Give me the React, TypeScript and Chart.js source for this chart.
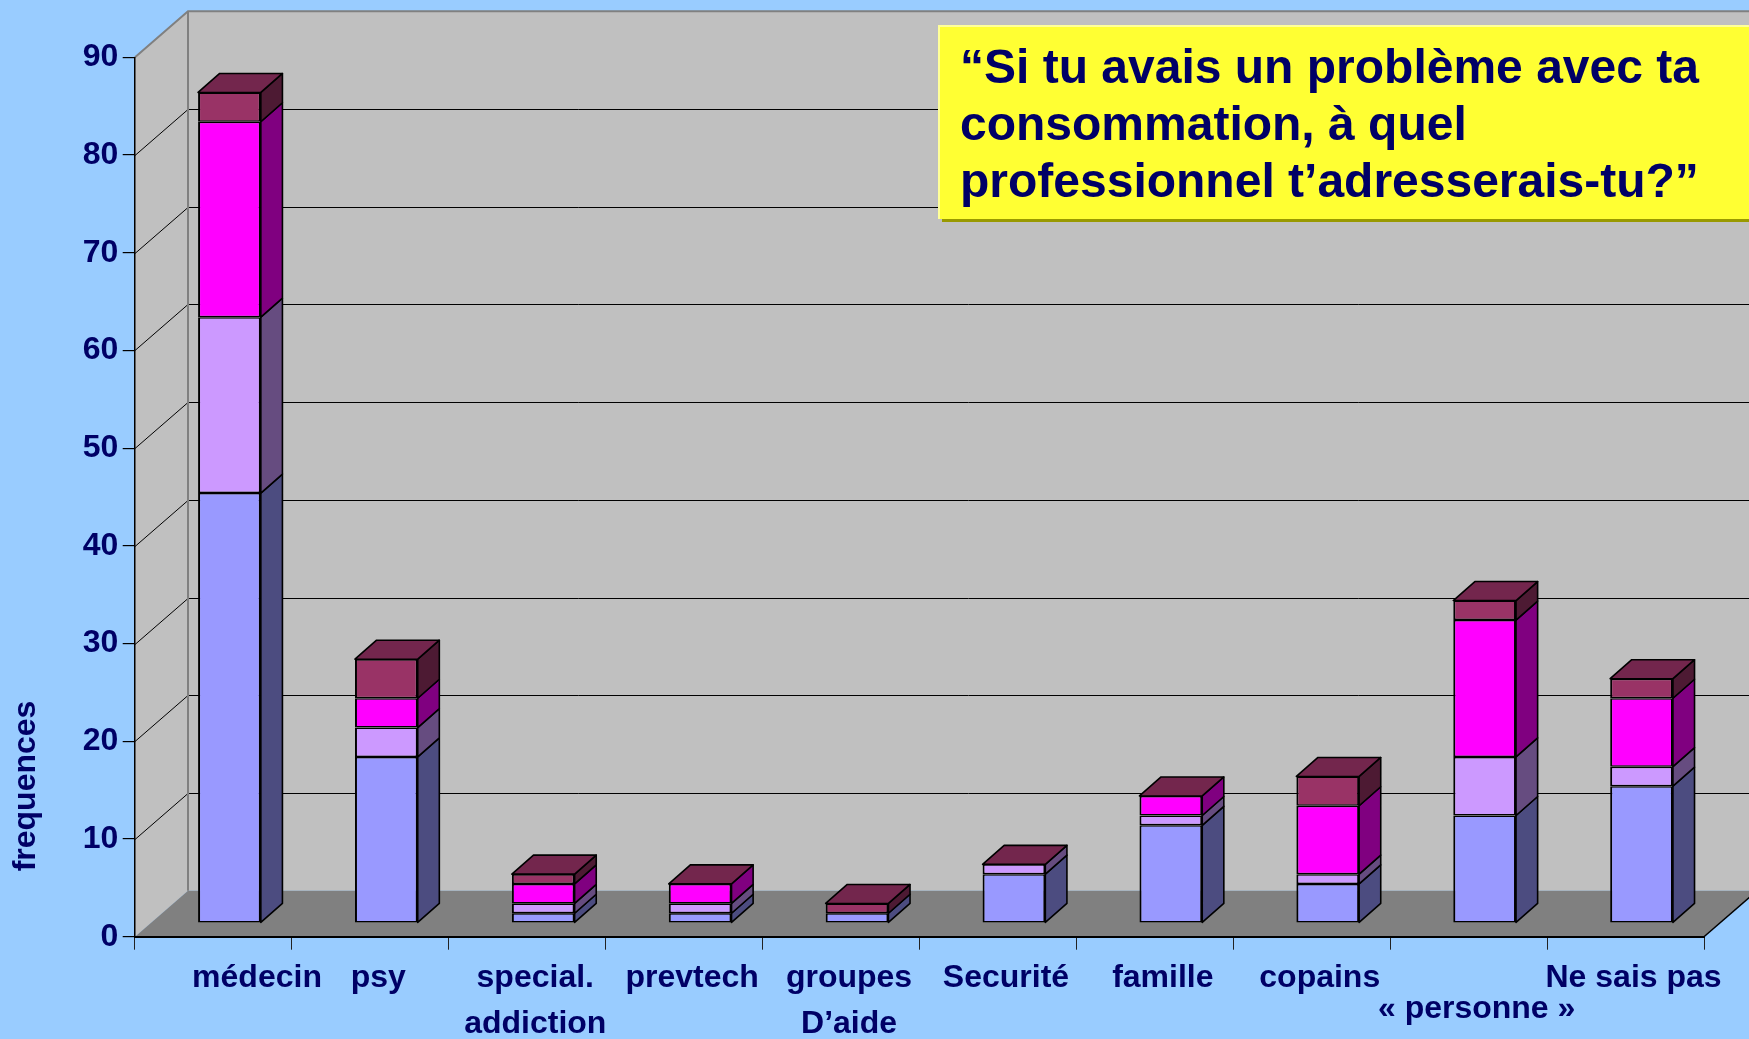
import React, { useEffect, useRef } from "react";
import { Chart, registerables } from "chart.js";

Chart.register(...registerables);

// ---------- data ----------
const categories: string[][] = [
  ["médecin"],
  ["psy"],
  ["special.", "addiction"],
  ["prevtech"],
  ["groupes", "D’aide"],
  ["Securité"],
  ["famille"],
  ["copains"],
  ["", "« personne »"],
  ["Ne sais pas"],
];
const seriesNames = ["Série 1", "Série 2", "Série 3", "Série 4"];
const serie1 = [44, 17, 1, 1, 1, 5, 10, 4, 11, 14];
const serie2 = [18, 3, 1, 1, 0, 1, 1, 1, 6, 2];
const serie3 = [20, 3, 2, 2, 0, 0, 2, 7, 14, 7];
const serie4 = [3, 4, 1, 0, 1, 0, 0, 3, 2, 2];
const yMin = 0;
const yMax = 90;
const yStep = 10;
const yTitle = "frequences";
const titleLines = [
  "“Si tu avais un problème avec ta",
  "consommation, à quel",
  "professionnel t’adresserais-tu?”",
];

// ---------- styles ----------
const FONT = '"Liberation Sans", Arial, Helvetica, sans-serif';
const NAVY = "#000066";
const frontColors = ["#9999FF", "#CC99FF", "#FF00FF", "#993366"];
const sideColors = ["#4C4C80", "#664C80", "#800080", "#4D1A33"];
const topColor = "#73264D";

const W = 1749;
const H = 1039;
const WALL_DX = 53;
const WALL_DY = 46;
const BAR_SHIFT_X = 16;
const BAR_SHIFT_Y = 13.7;
const BAR_DX = 21.6;
const BAR_DY = 19;

const env3d = {
  id: "env3d",
  beforeDraw(chart: any) {
    const { ctx, chartArea: a } = chart;
    const y = chart.scales.y;
    const L = a.left, R = a.right, T = a.top, B = a.bottom;
    ctx.save();
    ctx.fillStyle = "#99CCFF";
    ctx.fillRect(0, 0, chart.width, chart.height);
    // back wall
    ctx.fillStyle = "#C0C0C0";
    ctx.fillRect(L + WALL_DX, T - WALL_DY, chart.width, B - T);
    // left wall
    ctx.beginPath();
    ctx.moveTo(L, T);
    ctx.lineTo(L + WALL_DX, T - WALL_DY);
    ctx.lineTo(L + WALL_DX, B - WALL_DY);
    ctx.lineTo(L, B);
    ctx.closePath();
    ctx.fill();
    // floor
    ctx.fillStyle = "#808080";
    ctx.beginPath();
    ctx.moveTo(L, B);
    ctx.lineTo(R, B);
    ctx.lineTo(R + WALL_DX, B - WALL_DY);
    ctx.lineTo(L + WALL_DX, B - WALL_DY);
    ctx.closePath();
    ctx.fill();
    // gridlines
    ctx.strokeStyle = "#000";
    ctx.lineWidth = 1;
    for (const t of y.ticks) {
      if (t.value <= yMin || t.value >= yMax) continue;
      const py = Math.round(y.getPixelForValue(t.value)) + 0.5;
      ctx.beginPath();
      ctx.moveTo(L, py);
      ctx.lineTo(L + WALL_DX, py - WALL_DY);
      ctx.lineTo(chart.width, py - WALL_DY);
      ctx.stroke();
    }
    // wall edges
    ctx.strokeStyle = "#808080";
    ctx.lineWidth = 2;
    ctx.beginPath();
    ctx.moveTo(L, T);
    ctx.lineTo(L + WALL_DX, T - WALL_DY);
    ctx.lineTo(chart.width, T - WALL_DY);
    ctx.moveTo(L + WALL_DX, T - WALL_DY);
    ctx.lineTo(L + WALL_DX, B - WALL_DY);
    ctx.stroke();
    // floor right edge
    ctx.strokeStyle = "#000";
    ctx.lineWidth = 1.5;
    ctx.beginPath();
    ctx.moveTo(R, B);
    ctx.lineTo(R + WALL_DX, B - WALL_DY);
    ctx.stroke();
    ctx.restore();
  },
  beforeDatasetsDraw(chart: any) {
    chart.ctx.save();
    chart.ctx.translate(BAR_SHIFT_X, -BAR_SHIFT_Y);
  },
  afterDatasetsDraw(chart: any) {
    const ctx = chart.ctx;
    const metas = chart.getSortedVisibleDatasetMetas();
    const n = chart.data.labels.length;
    ctx.lineWidth = 1.6;
    ctx.strokeStyle = "#000";
    ctx.lineJoin = "round";
    for (let i = 0; i < n; i++) {
      let topPx = Infinity;
      let lx = 0;
      let rx = 0;
      for (const meta of metas) {
        const el = meta.data[i];
        const p = el.getProps(["x", "y", "base", "width"], true);
        lx = p.x - p.width / 2;
        rx = p.x + p.width / 2;
        const t = Math.min(p.y, p.base);
        const b = Math.max(p.y, p.base);
        topPx = Math.min(topPx, t);
        if (b - t < 0.5) continue;
        ctx.beginPath();
        ctx.moveTo(rx, b);
        ctx.lineTo(rx + BAR_DX, b - BAR_DY);
        ctx.lineTo(rx + BAR_DX, t - BAR_DY);
        ctx.lineTo(rx, t);
        ctx.closePath();
        ctx.fillStyle = sideColors[meta.index];
        ctx.fill();
        ctx.stroke();
      }
      ctx.beginPath();
      ctx.moveTo(lx, topPx);
      ctx.lineTo(lx + BAR_DX, topPx - BAR_DY);
      ctx.lineTo(rx + BAR_DX, topPx - BAR_DY);
      ctx.lineTo(rx, topPx);
      ctx.closePath();
      ctx.fillStyle = topColor;
      ctx.fill();
      ctx.stroke();
    }
    ctx.restore();
  },
  afterDraw(chart: any) {
    const ctx = chart.ctx;
    ctx.save();
    ctx.translate(35, 786);
    ctx.rotate(-Math.PI / 2);
    ctx.font = `bold 32px ${FONT}`;
    ctx.fillStyle = NAVY;
    ctx.textAlign = "center";
    ctx.textBaseline = "alphabetic";
    ctx.fillText(yTitle, 0, 0);
    ctx.restore();
  },
};

export default function App() {
  const ref = useRef<HTMLCanvasElement | null>(null);

  useEffect(() => {
    if (!ref.current) return;
    const allSeries = [serie1, serie2, serie3, serie4];
    const chart = new Chart(ref.current, {
      type: "bar",
      data: {
        labels: categories as any,
        datasets: allSeries.map((d, k) => ({
          label: seriesNames[k],
          data: d,
          backgroundColor: frontColors[k],
          borderColor: "#000",
          borderWidth: { left: 2, right: 2, top: 1.5, bottom: 1.5 },
          borderSkipped: false,
          barPercentage: 0.4,
          categoryPercentage: 1,
          clip: false as any,
        })),
      },
      options: {
        responsive: false,
        animation: false,
        devicePixelRatio: 1,
        events: [],
        layout: { padding: { left: 0, top: 57.3, right: 45, bottom: 0 } },
        plugins: {
          legend: { display: false },
          tooltip: { enabled: false },
          title: { display: false },
        },
        scales: {
          x: {
            stacked: true,
            offset: true,
            grid: {
              offset: true,
              drawOnChartArea: false,
              drawTicks: true,
              tickLength: 13,
              color: "#222",
              lineWidth: 1,
            },
            border: { display: true, color: "#000", width: 2 },
            ticks: {
              autoSkip: false,
              maxRotation: 0,
              minRotation: 0,
              labelOffset: 8,
              padding: 5.5,
              color: NAVY,
              font: (c: any) => ({
                family: FONT,
                size: 32,
                weight: "bold",
                lineHeight: c.index === 8 ? 36 / 32 : 46 / 32,
              }),
              callback: (_v: any, i: number) =>
                i === 0 ? categories[i].map((s) => "        " + s) : categories[i],
            },
            afterFit: (s: any) => {
              s.height = H - 936.7;
            },
          },
          y: {
            stacked: true,
            min: yMin,
            max: yMax,
            grid: {
              drawOnChartArea: false,
              drawTicks: true,
              tickLength: 12.3,
              color: "#000",
              lineWidth: 1.2,
            },
            border: { display: true, color: "#000", width: 1.5 },
            ticks: {
              stepSize: yStep,
              padding: 4.4,
              color: NAVY,
              font: { family: FONT, size: 32, weight: "bold" },
            },
            afterFit: (s: any) => {
              s.width = 135;
            },
          },
        },
      } as any,
      plugins: [env3d],
    });
    return () => chart.destroy();
  }, []);

  return (
    <div
      style={{
        position: "fixed",
        left: 0,
        top: 0,
        width: W,
        height: H,
        overflow: "hidden",
        background: "#99CCFF",
      }}
    >
      <canvas ref={ref} width={W} height={H} style={{ display: "block", width: W, height: H }} />
      <div
        style={{
          position: "absolute",
          left: 938,
          top: 25,
          width: 840,
          height: 194,
          boxSizing: "border-box",
          background: "#FFFF33",
          borderTop: "2px solid #FFFF99",
          borderLeft: "2px solid #FFFF99",
          boxShadow: "4px 3px 0 #999900",
          padding: "11px 0 0 20px",
          color: NAVY,
          fontFamily: FONT,
          fontWeight: "bold",
          fontSize: 48,
          lineHeight: "57px",
          whiteSpace: "nowrap",
        }}
      >
        {titleLines.map((l, i) => (
          <div key={i}>{l}</div>
        ))}
      </div>
    </div>
  );
}
